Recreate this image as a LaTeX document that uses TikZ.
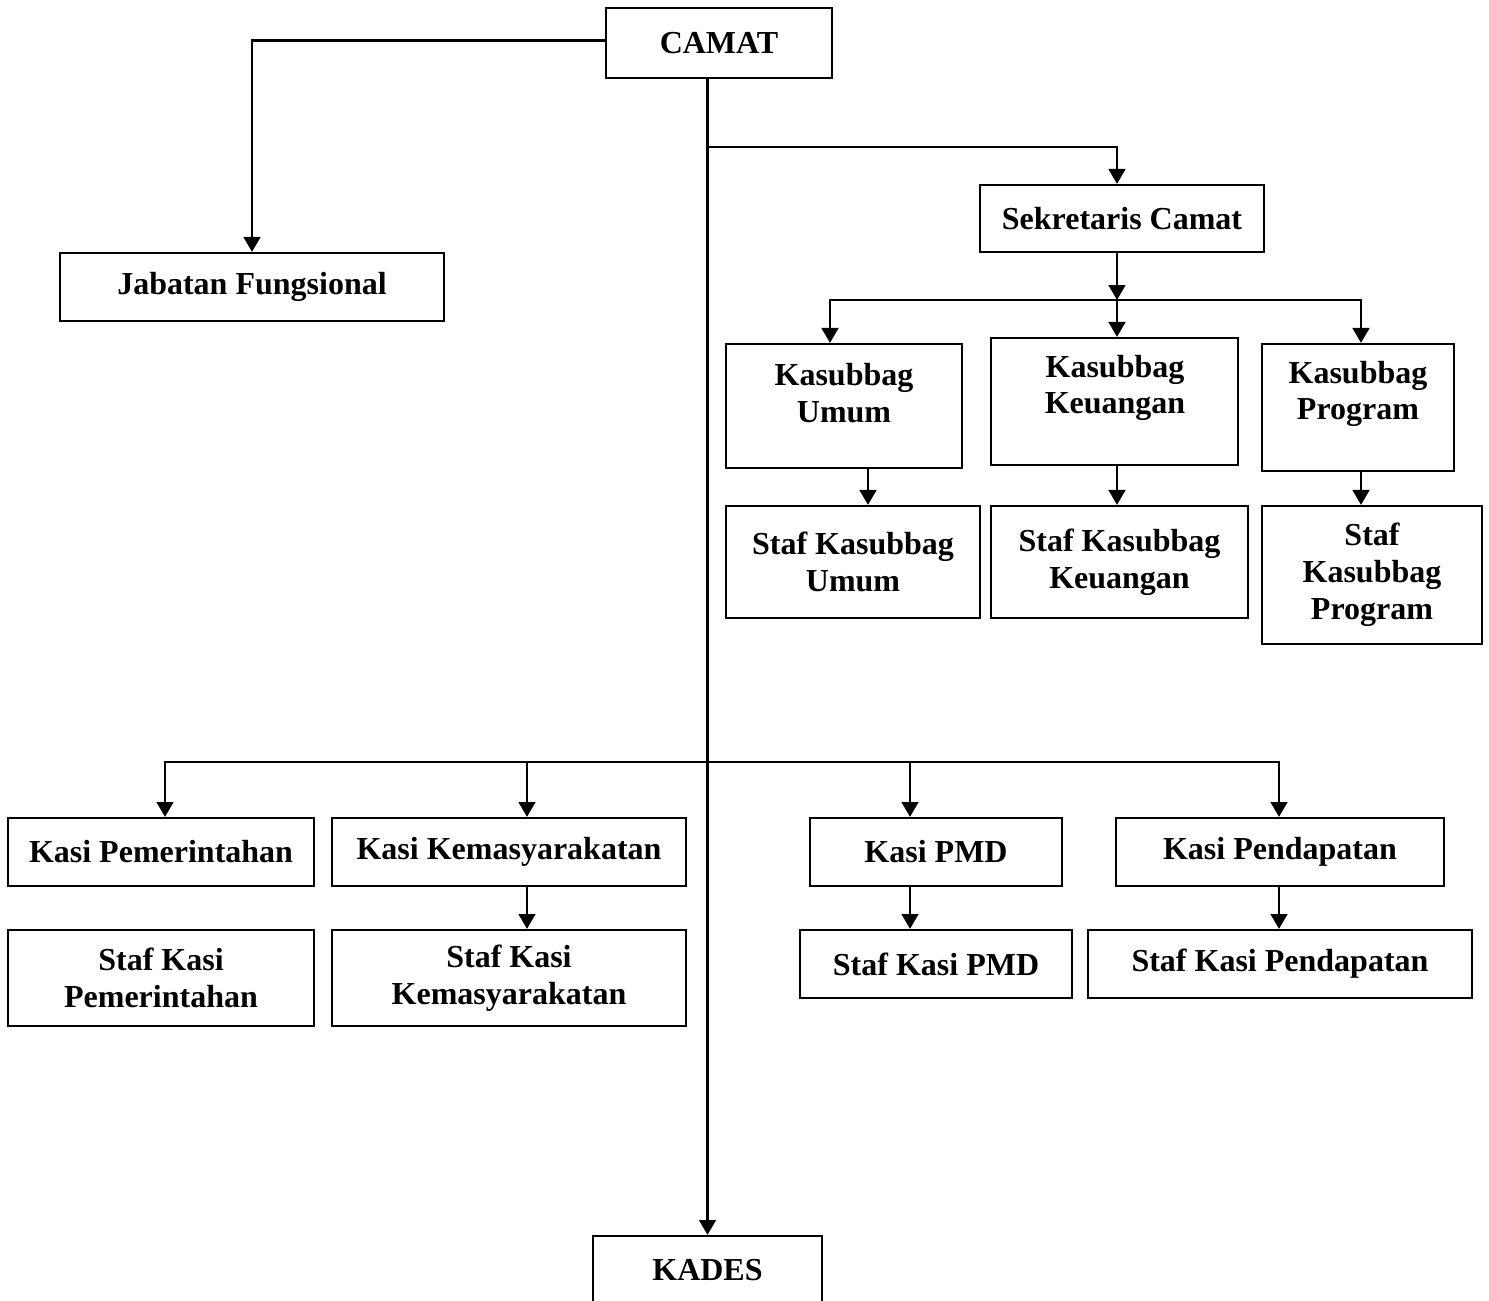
\documentclass[tikz,border=0pt]{standalone}
\usepackage{fontspec}
\setmainfont{Liberation Serif}
\usetikzlibrary{arrows.meta,positioning,calc}
\tikzset{
  orgbox/.style={
    draw=black, line width=0.8pt, align=center, inner sep=0pt,
    font=\fontsize{12pt}{13.8pt}\selectfont\bfseries
  },
  orgtxt/.style={align=center, inner sep=0pt, font=\fontsize{12pt}{13.8pt}\selectfont\bfseries},
  sz/.style 2 args={minimum width=#1*0.375pt, minimum height=#2*0.375pt},
  arr/.style={-{Triangle[length=5.6pt,width=6.2pt]}, draw=black, line width=1.1pt},
  ln/.style={draw=black, line width=1.1pt}
}

\begin{document}
\begin{tikzpicture}[x=0.375pt, y=-0.375pt]
  \useasboundingbox (0,0) rectangle (1489,1301);
  \node[orgbox, sz={226}{70}] (camat) at (719,43) {CAMAT};
  \node[orgbox, sz={384}{68}] (jabfung) at (252,287) {Jabatan Fungsional};
  \node[orgbox, sz={284}{67}] (sekcam) at (1122,218.5) {Sekretaris Camat};

  \node[orgbox, sz={236}{124}] (kumum) at (844,406) {};
  \node[orgtxt] (kumumt) at (844,393) {Kasubbag\\Umum};
  \node[orgbox, sz={247}{127}] (kkeu) at (1114.5,401.5) {};
  \node[orgtxt] (kkeut) at (1115,388) {Kasubbag\\Keuangan};
  \node[orgbox, sz={192}{127}] (kprog) at (1358,407.5) {};
  \node[orgtxt] (kprogt) at (1358,394) {Kasubbag\\Program};

  \node[orgbox, sz={254}{112}] (sumum) at (853,562) {Staf Kasubbag\\Umum};
  \node[orgbox, sz={257}{112}] (skeu) at (1119.5,562) {Staf Kasubbag\\Keuangan};
  \node[orgbox, sz={220}{138}] (sprog) at (1372,575) {Staf\\Kasubbag\\Program};

  \node[orgbox, sz={306}{68}] (kpem) at (161,852) {Kasi Pemerintahan};
  \node[orgbox, sz={354}{68}] (kmas) at (509,852) {Kasi Kemasyarakatan};
  \node[orgbox, sz={252}{68}] (kpmd) at (936,852) {Kasi PMD};
  \node[orgbox, sz={328}{68}] (kpend) at (1280,852) {Kasi Pendapatan};

  \node[orgbox, sz={306}{96}] (spem) at (161,978) {Staf Kasi\\Pemerintahan};
  \node[orgbox, sz={354}{96}] (smas) at (509,978) {Staf Kasi\\Kemasyarakatan};
  \node[orgbox, sz={272}{68}] (spmd) at (936,964) {Staf Kasi PMD};
  \node[orgbox, sz={384}{68}] (spend) at (1280,964) {Staf Kasi Pendapatan};

  \node[orgbox, sz={229}{68}] (kades) at (707.5,1270) {KADES};

  \coordinate (tr1) at (707,147);
  \coordinate (tr2) at (707,762);
  \coordinate (sk) at (1117,300);
  \coordinate (sl) at (830,300);
  \coordinate (sr) at (1361,300);
  \coordinate (ux) at (868,0);
  \coordinate (b1) at (165,762);
  \coordinate (b2) at (527,762);
  \coordinate (b3) at (910,762);
  \coordinate (b4) at (1279,762);

  \draw[arr] ([yshift=1.1pt]camat.west) -| (jabfung.north);
  \draw[arr] (camat.south -| kades.north) -- (kades.north);
  \draw[arr] (tr1) -| (sk |- sekcam.north);

  \draw[arr] (sk |- sekcam.south) -- (sk);
  \draw[arr] (sk) -| (sl |- kumum.north);
  \draw[arr] (sk) -| (sr |- kprog.north);
  \draw[arr] (sk) -- (sk |- kkeu.north);

  \draw[arr] (ux |- kumum.south) -- (ux |- sumum.north);
  \draw[arr] (sk |- kkeu.south) -- (sk |- skeu.north);
  \draw[arr] (sr |- kprog.south) -- (sr |- sprog.north);

  \draw[arr] (tr2) -| (b1 |- kpem.north);
  \draw[arr] (tr2) -| (b4 |- kpend.north);
  \draw[arr] (b2) -- (b2 |- kmas.north);
  \draw[arr] (b3) -- (b3 |- kpmd.north);

  \draw[arr] (b2 |- kmas.south) -- (b2 |- smas.north);
  \draw[arr] (b3 |- kpmd.south) -- (b3 |- spmd.north);
  \draw[arr] (b4 |- kpend.south) -- (b4 |- spend.north);
\end{tikzpicture}
\end{document}
